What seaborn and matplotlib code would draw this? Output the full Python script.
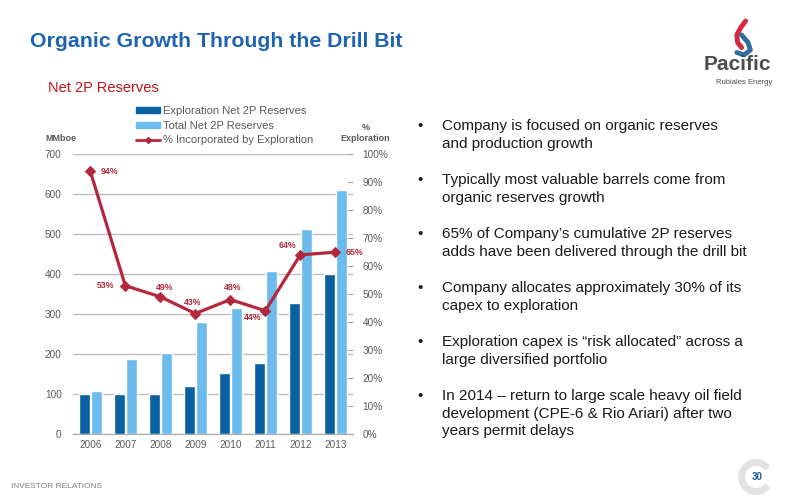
import numpy as np
import pandas as pd
import matplotlib
matplotlib.use("Agg")
import matplotlib.pyplot as plt
from matplotlib.patches import Arc, Patch
from matplotlib.lines import Line2D
import seaborn as sns

# data
years = ["2006", "2007", "2008", "2009", "2010", "2011", "2012", "2013"]
exploration = [100, 100, 98, 120, 153, 178, 328, 400]
total = [106, 188, 201, 281, 316, 407, 513, 612]
pct_exploration = [94, 53, 49, 43, 48, 44, 64, 65]
series_names = ["Exploration Net 2P Reserves", "Total Net 2P Reserves"]
line_name = "% Incorporated by Exploration"

bullets = [
    "Company is focused on organic reserves\nand production growth",
    "Typically most valuable barrels come from\norganic reserves growth",
    "65% of Company\u2019s cumulative 2P reserves\nadds have been delivered through the drill bit",
    "Company allocates approximately 30% of its\ncapex to exploration",
    "Exploration capex is \u201crisk allocated\u201d across a\nlarge diversified portfolio",
    "In 2014 \u2013 return to large scale heavy oil field\ndevelopment (CPE-6 & Rio Ariari) after two\nyears permit delays",
]

sns.set_style("white")
plt.rcParams["font.family"] = ["Liberation Sans", "DejaVu Sans"]

dark_blue = "#0A61A2"
light_blue = "#6CBBEE"
line_red = "#B3283C"
grey_txt = "#595959"

df = pd.DataFrame({
    "year": years * 2,
    "series": [series_names[0]] * len(years) + [series_names[1]] * len(years),
    "value": exploration + total,
})

fig = plt.figure(figsize=(8, 5), dpi=100)
ax = fig.add_axes([0.091, 0.133, 0.35, 0.558])

sns.barplot(data=df, x="year", y="value", hue="series", palette=[dark_blue, light_blue],
            width=0.7, gap=0.1, saturation=1, ax=ax, legend=False, zorder=3)
ax.set_ylim(0, 700)
ax.set_xlim(-0.5, 7.5)
ax.set_yticks(range(0, 701, 100))
ax.yaxis.grid(True, color="#BFBFBF", linewidth=1, zorder=0)
ax.set_axisbelow(True)
ax.set_xlabel("")
ax.set_ylabel("")
for s in ["top", "right", "left"]:
    ax.spines[s].set_visible(False)
ax.spines["bottom"].set_color("#A6A6A6")
ax.tick_params(axis="y", labelsize=7.2, colors=grey_txt, length=0, pad=8)
ax.tick_params(axis="x", labelsize=7.2, colors=grey_txt, length=0, pad=5)
ax.set_xticks(np.arange(-0.5, 8, 1), minor=True)
ax.tick_params(axis="x", which="minor", length=3, color="#A6A6A6", direction="out")

ax2 = ax.twinx()
sns.lineplot(x=np.arange(len(years)), y=pct_exploration, color=line_red, linewidth=2.3,
             marker="D", markersize=5, markeredgecolor=line_red, ax=ax2, zorder=5)
ax2.set_ylim(0, 100)
ax2.set_yticks(range(0, 101, 10))
ax2.set_yticklabels([f"{v}%" for v in range(0, 101, 10)])
ax2.tick_params(axis="y", labelsize=7.2, colors=grey_txt, length=4, direction="in", pad=7)
ax2.tick_params(axis="y", color="#A6A6A6")
for s in ["top", "right", "left", "bottom"]:
    ax2.spines[s].set_visible(False)

offsets = [(14, 0), (-14, 0), (3, 7), (-2, 8), (2, 9), (-9, -5), (-9, 7), (14, 0)]
for i, (p, off) in enumerate(zip(pct_exploration, offsets)):
    ax2.annotate(f"{p}%", (i, p), xytext=off, textcoords="offset points",
                 ha="center", va="center", fontsize=6.3, fontweight="bold", color=line_red)

handles = [Patch(color=dark_blue), Patch(color=light_blue),
           Line2D([0], [0], color=line_red, lw=2, marker="D", markersize=3)]
fig.legend(handles, series_names + [line_name], loc="upper left",
           bbox_to_anchor=(0.158, 0.808), frameon=False, fontsize=8,
           handlelength=2.1, handleheight=0.5, labelspacing=0.42, handletextpad=0.3,
           labelcolor=grey_txt)

fig.text(0.057, 0.723, "MMboe", fontsize=6.5, fontweight="bold", color=grey_txt, ha="left", va="center")
fig.text(0.457, 0.734, "%\nExploration", fontsize=6.5, fontweight="bold", color=grey_txt,
         ha="center", va="center", linespacing=1.3)

# titles
fig.text(0.038, 0.917, "Organic Growth Through the Drill Bit", fontsize=15.3,
         fontweight="bold", color="#1E63B4", ha="left", va="center")
fig.text(0.06, 0.823, "Net 2P Reserves", fontsize=10.5, color="#C0141E", ha="left", va="center")

# bullets
y = 0.762
for b in bullets:
    n = b.count("\n") + 1
    fig.text(0.522, y, "\u2022", fontsize=11, color="#1A1A1A", ha="left", va="top")
    fig.text(0.553, y, b, fontsize=11, color="#1A1A1A", ha="left", va="top", linespacing=1.32)
    y -= 0.036 * n + 0.036

# logo
fig.text(0.922, 0.872, "Pacific", fontsize=15, fontweight="bold", color="#4D4D4D", ha="center", va="center")
fig.text(0.93, 0.834, "Rubiales Energy", fontsize=5.5, color="#4D4D4D", ha="center", va="center")
fig.add_artist(Line2D([0.932, 0.926, 0.921, 0.922, 0.927], [0.958, 0.945, 0.93, 0.915, 0.905],
                      color="#D7263D", lw=3.5, solid_capstyle="round"))
fig.add_artist(Line2D([0.927, 0.935, 0.938, 0.93, 0.921], [0.93, 0.915, 0.9, 0.89, 0.895],
                      color="#2E6E9E", lw=3.5, solid_capstyle="round"))

# footer
fig.text(0.014, 0.026, "INVESTOR RELATIONS", fontsize=6, color="#7F7F7F", ha="left", va="center")
fig.text(0.947, 0.046, "30", fontsize=7, fontweight="bold", color="#1F5B99", ha="center", va="center")
fig.add_artist(Arc((0.945, 0.046), 0.036, 0.058, theta1=50, theta2=310,
                   transform=fig.transFigure, color="#E3E3E3", lw=5))

fig.savefig("out.png", dpi=100)
